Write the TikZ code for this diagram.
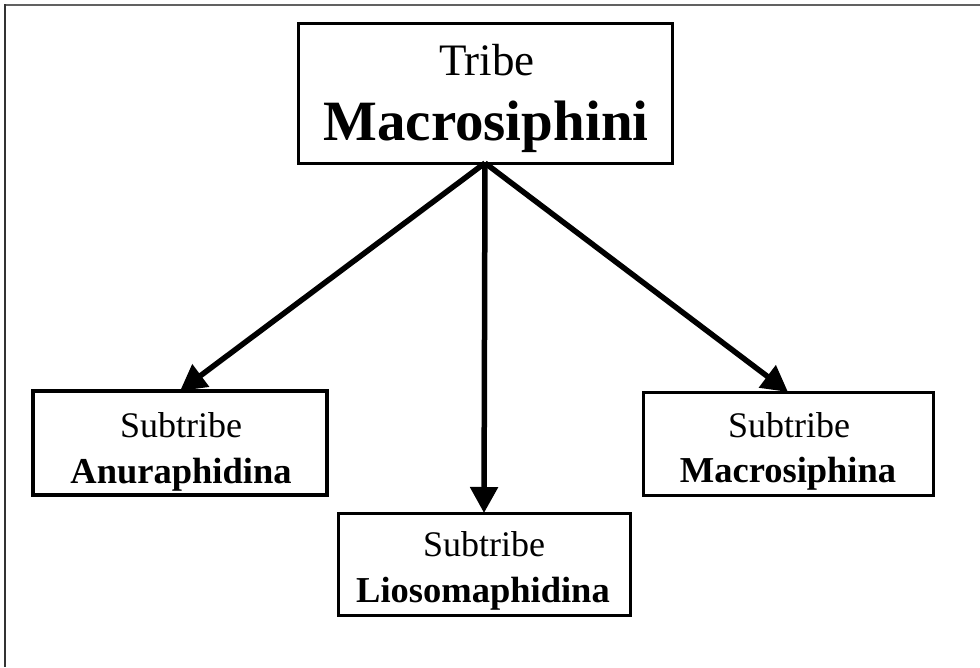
\documentclass[tikz,border=0pt]{standalone}
\usepackage{fontspec}
\setmainfont{Liberation Serif}
\usetikzlibrary{arrows.meta}
\begin{document}
\begin{tikzpicture}[x=1pt,y=-1pt,
  taxbox/.style={draw=black,line width=3pt,rectangle,inner sep=0pt,outer sep=0pt},
  rank/.style={anchor=base,inner sep=0pt,font=\fontsize{36}{40}\selectfont},
  taxon/.style={anchor=base,inner sep=0pt,font=\fontsize{36.5}{40}\selectfont\bfseries},
  link/.style={line width=5.5pt,-{Triangle[length=26pt,width=27pt]}}]
  \useasboundingbox (0,0) rectangle (980,667);
  % frame lines along top and left edge
  \draw[line width=2pt,color=black!62] (4,4.5) -- (980,4.5);
  \draw[line width=2pt,color=black!80] (4.5,4) -- (4.5,667);
  % tribe
  \node[taxbox,minimum width=374pt,minimum height=140pt] (tribe) at (485,93) {};
  \node[rank,font=\fontsize{45}{50}\selectfont] (tribeR) at (487,75) {Tribe};
  \node[taxon,font=\fontsize{57}{60}\selectfont\bfseries] (tribeT) at (486,140) {Macrosiphini};
  % subtribes
  \node[taxbox,line width=4.5pt,minimum width=294pt,minimum height=104pt] (anu) at (180,443) {};
  \node[rank] (anuR) at (181,437) {Subtribe};
  \node[taxon] (anuT) at (181,483) {Anuraphidina};
  \node[taxbox,minimum width=292pt,minimum height=102pt] (lio) at (484,564) {};
  \node[rank] (lioR) at (484,556) {Subtribe};
  \node[taxon] (lioT) at (483,602) {Liosomaphidina};
  \node[taxbox,minimum width=290pt,minimum height=103pt] (mac) at (788,443.5) {};
  \node[rank] (macR) at (789,437) {Subtribe};
  \node[taxon] (macT) at (788,482) {Macrosiphina};
  % connectors
  \draw[link] (tribe.south) -- (anu.north);
  \draw[link] (tribe.south) -- (lio.north);
  \draw[link] (tribe.south) -- (mac.north);
\end{tikzpicture}
\end{document}
